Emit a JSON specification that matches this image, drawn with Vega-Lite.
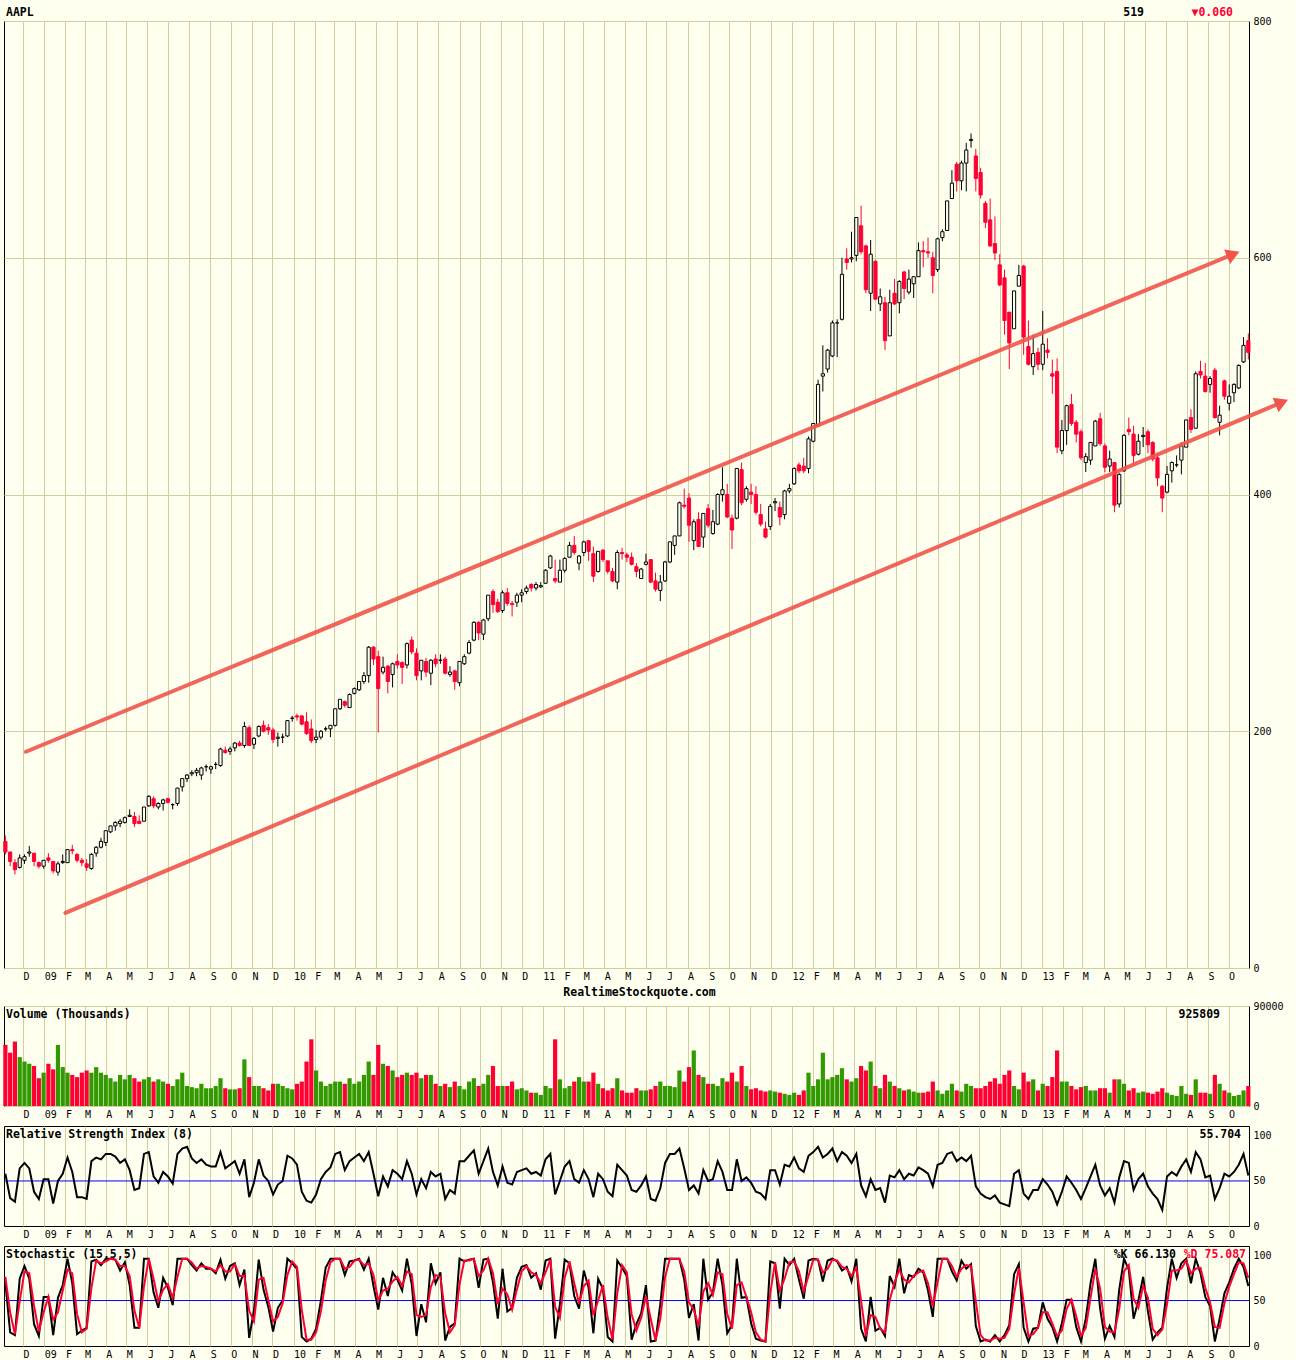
{
"$schema":"https://vega.github.io/schema/vega-lite/v6.json",
"background":"#FFFFF0",
"padding":{"left":0,"top":6,"right":5,"bottom":5},
"config":{
 "font":"DejaVu Sans Mono",
 "view":{"stroke":"#000000","strokeWidth":1},
 "scale":{"continuousPadding":0},
 "axis":{"labelFont":"DejaVu Sans Mono","labelFontSize":10,"labelColor":"#000000","domain":false,"ticks":false,"grid":true,"gridColor":"#CFCF9F","gridWidth":1,"labelFlush":false,"labelOverlap":false,"labelBound":false,"titleFont":"DejaVu Sans Mono","titleFontSize":11.5,"titleFontWeight":"bold","titleColor":"#000000"},
 "axisX":{"labelAlign":"left","labelBaseline":"top","labelPadding":3},
 "axisY":{"labelPadding":4,"labelBaseline":"middle","labelAlign":"left"},
 "text":{"font":"DejaVu Sans Mono","fontSize":11.5,"fontWeight":"bold","color":"#000000"}
},
"datasets":{"w":[
{"d":"2008-11-05","o":107,"h":112,"l":96,"c":98,"v":55000,"r":58,"k":70,"s":76},
{"d":"2008-11-12","o":98,"h":98,"l":86,"c":90,"v":48000,"r":31,"k":15,"s":37},
{"d":"2008-11-19","o":89,"h":92,"l":79,"c":83,"v":58000,"r":27,"k":12,"s":13},
{"d":"2008-11-26","o":85,"h":96,"l":84,"c":93,"v":44000,"r":64,"k":74,"s":49},
{"d":"2008-12-03","o":91,"h":96,"l":88,"c":94,"v":40000,"r":70,"k":88,"s":82},
{"d":"2008-12-10","o":97,"h":103,"l":94,"c":98,"v":38000,"r":64,"k":74,"s":80},
{"d":"2008-12-17","o":97,"h":97,"l":86,"c":90,"v":36000,"r":38,"k":24,"s":44},
{"d":"2008-12-24","o":89,"h":90,"l":84,"c":86,"v":25000,"r":30,"k":11,"s":16},
{"d":"2008-12-31","o":86,"h":91,"l":84,"c":91,"v":30000,"r":52,"k":54,"s":37},
{"d":"2009-01-07","o":93,"h":97,"l":89,"c":91,"v":38000,"r":52,"k":54,"s":54},
{"d":"2009-01-14","o":90,"h":90,"l":80,"c":82,"v":33000,"r":25,"k":12,"s":29},
{"d":"2009-01-21","o":81,"h":90,"l":78,"c":88,"v":55000,"r":50,"k":53,"s":37},
{"d":"2009-01-28","o":89,"h":96,"l":88,"c":90,"v":35000,"r":58,"k":67,"s":61},
{"d":"2009-02-04","o":89,"h":100,"l":89,"c":100,"v":30000,"r":76,"k":96,"s":84},
{"d":"2009-02-11","o":100,"h":104,"l":96,"c":99,"v":28000,"r":60,"k":69,"s":80},
{"d":"2009-02-18","o":96,"h":97,"l":89,"c":91,"v":26000,"r":32,"k":13,"s":35},
{"d":"2009-02-25","o":91,"h":93,"l":86,"c":89,"v":30000,"r":32,"k":17,"s":15},
{"d":"2009-03-04","o":88,"h":92,"l":82,"c":85,"v":32000,"r":30,"k":20,"s":19},
{"d":"2009-03-11","o":84,"h":97,"l":83,"c":96,"v":30000,"r":72,"k":93,"s":64},
{"d":"2009-03-18","o":97,"h":103,"l":94,"c":102,"v":35000,"r":76,"k":95,"s":94},
{"d":"2009-03-25","o":102,"h":110,"l":101,"c":107,"v":30000,"r":74,"k":89,"s":91},
{"d":"2009-04-01","o":106,"h":116,"l":103,"c":116,"v":28000,"r":80,"k":96,"s":93},
{"d":"2009-04-08","o":115,"h":120,"l":114,"c":120,"v":25000,"r":80,"k":96,"s":96},
{"d":"2009-04-15","o":120,"h":124,"l":116,"c":123,"v":22000,"r":77,"k":95,"s":95},
{"d":"2009-04-22","o":122,"h":126,"l":119,"c":124,"v":28000,"r":70,"k":83,"s":88},
{"d":"2009-04-29","o":123,"h":128,"l":122,"c":127,"v":24000,"r":74,"k":92,"s":88},
{"d":"2009-05-06","o":128,"h":134,"l":128,"c":129,"v":28000,"r":62,"k":67,"s":77},
{"d":"2009-05-13","o":128,"h":132,"l":119,"c":122,"v":25000,"r":40,"k":20,"s":39},
{"d":"2009-05-20","o":124,"h":129,"l":122,"c":122,"v":22000,"r":42,"k":20,"s":20},
{"d":"2009-05-27","o":124,"h":136,"l":124,"c":136,"v":24000,"r":80,"k":96,"s":66},
{"d":"2009-06-03","o":137,"h":146,"l":136,"c":145,"v":26000,"r":82,"k":96,"s":96},
{"d":"2009-06-10","o":143,"h":145,"l":135,"c":137,"v":22000,"r":55,"k":59,"s":74},
{"d":"2009-06-17","o":136,"h":140,"l":134,"c":139,"v":24000,"r":48,"k":42,"s":49},
{"d":"2009-06-24","o":139,"h":143,"l":133,"c":142,"v":22000,"r":60,"k":75,"s":62},
{"d":"2009-07-01","o":143,"h":144,"l":139,"c":140,"v":20000,"r":55,"k":64,"s":68},
{"d":"2009-07-08","o":138,"h":139,"l":134,"c":138,"v":18000,"r":47,"k":45,"s":53},
{"d":"2009-07-15","o":139,"h":152,"l":137,"c":152,"v":24000,"r":80,"k":96,"s":76},
{"d":"2009-07-22","o":153,"h":160,"l":149,"c":160,"v":30000,"r":86,"k":96,"s":96},
{"d":"2009-07-29","o":160,"h":164,"l":157,"c":163,"v":18000,"r":88,"k":96,"s":96},
{"d":"2009-08-05","o":164,"h":167,"l":162,"c":165,"v":17000,"r":75,"k":89,"s":92},
{"d":"2009-08-12","o":165,"h":169,"l":162,"c":167,"v":16000,"r":70,"k":83,"s":85},
{"d":"2009-08-19","o":163,"h":170,"l":159,"c":169,"v":20000,"r":74,"k":91,"s":88},
{"d":"2009-08-26","o":170,"h":172,"l":166,"c":170,"v":16000,"r":68,"k":85,"s":87},
{"d":"2009-09-02","o":168,"h":171,"l":164,"c":170,"v":16000,"r":66,"k":85,"s":85},
{"d":"2009-09-09","o":172,"h":174,"l":168,"c":172,"v":18000,"r":66,"k":80,"s":82},
{"d":"2009-09-16","o":171,"h":186,"l":170,"c":185,"v":25000,"r":82,"k":95,"s":89},
{"d":"2009-09-23","o":184,"h":187,"l":181,"c":182,"v":16000,"r":64,"k":74,"s":82},
{"d":"2009-09-30","o":183,"h":187,"l":180,"c":185,"v":15000,"r":68,"k":88,"s":82},
{"d":"2009-10-07","o":186,"h":191,"l":183,"c":190,"v":15000,"r":72,"k":91,"s":90},
{"d":"2009-10-14","o":190,"h":192,"l":187,"c":188,"v":16000,"r":58,"k":67,"s":77},
{"d":"2009-10-21","o":188,"h":208,"l":186,"c":204,"v":42000,"r":74,"k":84,"s":77},
{"d":"2009-10-28","o":203,"h":205,"l":188,"c":188,"v":26000,"r":32,"k":9,"s":39},
{"d":"2009-11-04","o":189,"h":195,"l":185,"c":194,"v":18000,"r":48,"k":39,"s":27},
{"d":"2009-11-11","o":196,"h":205,"l":195,"c":204,"v":18000,"r":74,"k":95,"s":73},
{"d":"2009-11-18","o":205,"h":209,"l":199,"c":200,"v":16000,"r":56,"k":62,"s":75},
{"d":"2009-11-25","o":203,"h":206,"l":197,"c":201,"v":14000,"r":50,"k":43,"s":51},
{"d":"2009-12-02","o":201,"h":203,"l":190,"c":193,"v":20000,"r":35,"k":16,"s":27},
{"d":"2009-12-09","o":194,"h":199,"l":187,"c":195,"v":20000,"r":46,"k":42,"s":32},
{"d":"2009-12-16","o":195,"h":198,"l":190,"c":195,"v":18000,"r":50,"k":50,"s":47},
{"d":"2009-12-23","o":196,"h":209,"l":195,"c":209,"v":16000,"r":78,"k":96,"s":78},
{"d":"2009-12-30","o":211,"h":213,"l":208,"c":211,"v":15000,"r":75,"k":91,"s":93},
{"d":"2010-01-06","o":213,"h":215,"l":209,"c":212,"v":20000,"r":68,"k":85,"s":87},
{"d":"2010-01-13","o":213,"h":213,"l":205,"c":206,"v":22000,"r":38,"k":10,"s":40},
{"d":"2010-01-20","o":208,"h":216,"l":197,"c":198,"v":40000,"r":28,"k":5,"s":7},
{"d":"2010-01-27","o":202,"h":210,"l":190,"c":192,"v":60000,"r":26,"k":8,"s":7},
{"d":"2010-02-03","o":193,"h":201,"l":190,"c":195,"v":32000,"r":35,"k":19,"s":15},
{"d":"2010-02-10","o":195,"h":201,"l":193,"c":200,"v":22000,"r":52,"k":50,"s":38},
{"d":"2010-02-17","o":202,"h":204,"l":200,"c":202,"v":18000,"r":60,"k":86,"s":72},
{"d":"2010-02-24","o":202,"h":205,"l":195,"c":205,"v":20000,"r":65,"k":96,"s":92},
{"d":"2010-03-03","o":205,"h":219,"l":204,"c":219,"v":22000,"r":80,"k":96,"s":96},
{"d":"2010-03-10","o":219,"h":227,"l":218,"c":227,"v":22000,"r":82,"k":96,"s":96},
{"d":"2010-03-17","o":225,"h":226,"l":220,"c":222,"v":20000,"r":62,"k":78,"s":85},
{"d":"2010-03-24","o":220,"h":232,"l":220,"c":231,"v":25000,"r":72,"k":93,"s":87},
{"d":"2010-03-31","o":232,"h":237,"l":231,"c":236,"v":20000,"r":76,"k":94,"s":94},
{"d":"2010-04-07","o":235,"h":242,"l":234,"c":242,"v":22000,"r":80,"k":96,"s":95},
{"d":"2010-04-14","o":242,"h":250,"l":240,"c":247,"v":28000,"r":72,"k":84,"s":89},
{"d":"2010-04-21","o":247,"h":272,"l":241,"c":271,"v":40000,"r":82,"k":96,"s":91},
{"d":"2010-04-28","o":271,"h":272,"l":256,"c":261,"v":28000,"r":58,"k":66,"s":78},
{"d":"2010-05-05","o":263,"h":268,"l":199,"c":236,"v":55000,"r":33,"k":40,"s":50},
{"d":"2010-05-12","o":250,"h":263,"l":248,"c":254,"v":38000,"r":55,"k":75,"s":61},
{"d":"2010-05-19","o":255,"h":256,"l":232,"c":242,"v":36000,"r":44,"k":55,"s":63},
{"d":"2010-05-26","o":248,"h":258,"l":237,"c":257,"v":32000,"r":62,"k":81,"s":71},
{"d":"2010-06-02","o":259,"h":265,"l":253,"c":256,"v":26000,"r":58,"k":73,"s":76},
{"d":"2010-06-09","o":258,"h":259,"l":240,"c":254,"v":28000,"r":52,"k":61,"s":66},
{"d":"2010-06-16","o":256,"h":275,"l":253,"c":274,"v":30000,"r":72,"k":96,"s":82},
{"d":"2010-06-23","o":277,"h":280,"l":265,"c":267,"v":28000,"r":58,"k":68,"s":79},
{"d":"2010-06-30","o":266,"h":270,"l":243,"c":247,"v":30000,"r":35,"k":11,"s":34},
{"d":"2010-07-07","o":251,"h":260,"l":243,"c":260,"v":25000,"r":52,"k":46,"s":32},
{"d":"2010-07-14","o":259,"h":262,"l":246,"c":250,"v":28000,"r":42,"k":26,"s":34},
{"d":"2010-07-21","o":249,"h":261,"l":239,"c":260,"v":28000,"r":60,"k":91,"s":65},
{"d":"2010-07-28","o":261,"h":265,"l":254,"c":257,"v":20000,"r":55,"k":69,"s":78},
{"d":"2010-08-04","o":260,"h":265,"l":257,"c":260,"v":18000,"r":58,"k":81,"s":76},
{"d":"2010-08-11","o":261,"h":263,"l":248,"c":249,"v":20000,"r":30,"k":6,"s":36},
{"d":"2010-08-18","o":248,"h":255,"l":246,"c":250,"v":17000,"r":40,"k":21,"s":15},
{"d":"2010-08-25","o":251,"h":252,"l":235,"c":242,"v":22000,"r":36,"k":25,"s":23},
{"d":"2010-09-01","o":241,"h":259,"l":238,"c":259,"v":18000,"r":72,"k":96,"s":68},
{"d":"2010-09-08","o":257,"h":265,"l":256,"c":263,"v":15000,"r":72,"k":93,"s":94},
{"d":"2010-09-15","o":266,"h":277,"l":265,"c":275,"v":22000,"r":78,"k":95,"s":94},
{"d":"2010-09-22","o":277,"h":293,"l":276,"c":292,"v":25000,"r":84,"k":96,"s":96},
{"d":"2010-09-29","o":292,"h":293,"l":277,"c":283,"v":18000,"r":58,"k":64,"s":77},
{"d":"2010-10-06","o":282,"h":295,"l":277,"c":294,"v":20000,"r":72,"k":95,"s":83},
{"d":"2010-10-13","o":295,"h":315,"l":293,"c":315,"v":28000,"r":86,"k":96,"s":96},
{"d":"2010-10-20","o":318,"h":320,"l":300,"c":307,"v":36000,"r":60,"k":70,"s":80},
{"d":"2010-10-27","o":309,"h":312,"l":300,"c":301,"v":18000,"r":45,"k":30,"s":46},
{"d":"2010-11-03","o":302,"h":319,"l":300,"c":317,"v":18000,"r":66,"k":85,"s":63},
{"d":"2010-11-10","o":317,"h":321,"l":306,"c":308,"v":18000,"r":48,"k":38,"s":57},
{"d":"2010-11-17","o":308,"h":310,"l":297,"c":307,"v":22000,"r":46,"k":42,"s":40},
{"d":"2010-11-24","o":309,"h":317,"l":305,"c":315,"v":15000,"r":60,"k":75,"s":62},
{"d":"2010-12-01","o":315,"h":320,"l":309,"c":317,"v":16000,"r":62,"k":87,"s":82},
{"d":"2010-12-08","o":318,"h":323,"l":316,"c":321,"v":14000,"r":64,"k":89,"s":88},
{"d":"2010-12-15","o":324,"h":325,"l":318,"c":321,"v":12000,"r":58,"k":75,"s":81},
{"d":"2010-12-22","o":321,"h":326,"l":319,"c":324,"v":12000,"r":60,"k":80,"s":78},
{"d":"2010-12-29","o":322,"h":326,"l":321,"c":323,"v":10000,"r":56,"k":62,"s":69},
{"d":"2011-01-05","o":325,"h":337,"l":325,"c":336,"v":18000,"r":74,"k":94,"s":81},
{"d":"2011-01-12","o":338,"h":349,"l":337,"c":348,"v":16000,"r":80,"k":96,"s":95},
{"d":"2011-01-19","o":329,"h":345,"l":325,"c":327,"v":60000,"r":35,"k":8,"s":43},
{"d":"2011-01-26","o":326,"h":345,"l":326,"c":336,"v":24000,"r":50,"k":46,"s":31},
{"d":"2011-02-02","o":336,"h":347,"l":334,"c":346,"v":16000,"r":66,"k":95,"s":75},
{"d":"2011-02-09","o":347,"h":360,"l":347,"c":357,"v":18000,"r":72,"k":91,"s":93},
{"d":"2011-02-16","o":357,"h":365,"l":349,"c":351,"v":22000,"r":52,"k":55,"s":69},
{"d":"2011-02-23","o":342,"h":349,"l":336,"c":348,"v":26000,"r":48,"k":41,"s":47},
{"d":"2011-03-02","o":351,"h":361,"l":348,"c":360,"v":22000,"r":62,"k":83,"s":66},
{"d":"2011-03-09","o":361,"h":361,"l":344,"c":352,"v":22000,"r":52,"k":64,"s":72},
{"d":"2011-03-16","o":350,"h":356,"l":326,"c":331,"v":30000,"r":32,"k":14,"s":34},
{"d":"2011-03-23","o":335,"h":352,"l":334,"c":352,"v":20000,"r":58,"k":74,"s":50},
{"d":"2011-03-30","o":353,"h":354,"l":343,"c":345,"v":16000,"r":52,"k":63,"s":67},
{"d":"2011-04-06","o":344,"h":344,"l":333,"c":335,"v":14000,"r":38,"k":10,"s":31},
{"d":"2011-04-13","o":335,"h":338,"l":326,"c":327,"v":16000,"r":33,"k":5,"s":7},
{"d":"2011-04-20","o":326,"h":353,"l":320,"c":351,"v":25000,"r":68,"k":94,"s":58},
{"d":"2011-04-27","o":351,"h":355,"l":345,"c":350,"v":14000,"r":62,"k":86,"s":89},
{"d":"2011-05-04","o":349,"h":351,"l":343,"c":347,"v":12000,"r":56,"k":77,"s":81},
{"d":"2011-05-11","o":347,"h":351,"l":340,"c":341,"v":12000,"r":40,"k":7,"s":35},
{"d":"2011-05-18","o":339,"h":342,"l":330,"c":335,"v":16000,"r":38,"k":24,"s":17},
{"d":"2011-05-25","o":329,"h":338,"l":329,"c":337,"v":14000,"r":45,"k":36,"s":31},
{"d":"2011-06-01","o":341,"h":350,"l":340,"c":343,"v":14000,"r":55,"k":67,"s":55},
{"d":"2011-06-08","o":345,"h":345,"l":325,"c":326,"v":15000,"r":30,"k":5,"s":30},
{"d":"2011-06-15","o":327,"h":334,"l":318,"c":320,"v":18000,"r":28,"k":6,"s":6},
{"d":"2011-06-22","o":319,"h":332,"l":310,"c":326,"v":22000,"r":42,"k":46,"s":30},
{"d":"2011-06-29","o":327,"h":344,"l":326,"c":343,"v":18000,"r":70,"k":96,"s":76},
{"d":"2011-07-06","o":343,"h":360,"l":342,"c":360,"v":18000,"r":80,"k":96,"s":96},
{"d":"2011-07-13","o":357,"h":365,"l":349,"c":365,"v":17000,"r":80,"k":96,"s":96},
{"d":"2011-07-20","o":365,"h":394,"l":365,"c":393,"v":32000,"r":86,"k":96,"s":96},
{"d":"2011-07-27","o":391,"h":405,"l":388,"c":390,"v":22000,"r":64,"k":73,"s":82},
{"d":"2011-08-03","o":397,"h":401,"l":360,"c":374,"v":35000,"r":40,"k":31,"s":48},
{"d":"2011-08-10","o":361,"h":379,"l":353,"c":377,"v":50000,"r":45,"k":46,"s":40},
{"d":"2011-08-17","o":379,"h":385,"l":356,"c":356,"v":28000,"r":36,"k":6,"s":22},
{"d":"2011-08-24","o":364,"h":384,"l":355,"c":384,"v":26000,"r":62,"k":96,"s":60},
{"d":"2011-08-31","o":388,"h":392,"l":372,"c":374,"v":20000,"r":50,"k":51,"s":69},
{"d":"2011-09-07","o":367,"h":387,"l":366,"c":377,"v":20000,"r":52,"k":59,"s":56},
{"d":"2011-09-14","o":375,"h":401,"l":374,"c":400,"v":18000,"r":72,"k":96,"s":81},
{"d":"2011-09-21","o":400,"h":423,"l":394,"c":404,"v":25000,"r":60,"k":67,"s":79},
{"d":"2011-09-28","o":400,"h":409,"l":380,"c":381,"v":22000,"r":40,"k":14,"s":35},
{"d":"2011-10-05","o":380,"h":383,"l":354,"c":370,"v":30000,"r":40,"k":23,"s":19},
{"d":"2011-10-12","o":380,"h":422,"l":379,"c":422,"v":22000,"r":74,"k":96,"s":67},
{"d":"2011-10-19","o":421,"h":427,"l":391,"c":393,"v":36000,"r":50,"k":53,"s":70},
{"d":"2011-10-26","o":396,"h":407,"l":394,"c":405,"v":18000,"r":54,"k":54,"s":54},
{"d":"2011-11-02","o":402,"h":409,"l":392,"c":400,"v":15000,"r":48,"k":25,"s":37},
{"d":"2011-11-09","o":400,"h":407,"l":383,"c":385,"v":16000,"r":38,"k":8,"s":15},
{"d":"2011-11-16","o":383,"h":392,"l":373,"c":375,"v":14000,"r":36,"k":6,"s":7},
{"d":"2011-11-23","o":371,"h":377,"l":363,"c":364,"v":13000,"r":30,"k":5,"s":5},
{"d":"2011-11-30","o":373,"h":392,"l":370,"c":390,"v":14000,"r":62,"k":93,"s":58},
{"d":"2011-12-07","o":393,"h":397,"l":386,"c":394,"v":13000,"r":62,"k":91,"s":92},
{"d":"2011-12-14","o":389,"h":394,"l":374,"c":381,"v":12000,"r":46,"k":41,"s":61},
{"d":"2011-12-21","o":383,"h":404,"l":379,"c":403,"v":11000,"r":68,"k":96,"s":74},
{"d":"2011-12-28","o":403,"h":409,"l":401,"c":405,"v":10000,"r":66,"k":89,"s":92},
{"d":"2012-01-04","o":409,"h":423,"l":408,"c":422,"v":12000,"r":76,"k":96,"s":93},
{"d":"2012-01-11","o":425,"h":427,"l":418,"c":420,"v":10000,"r":64,"k":73,"s":82},
{"d":"2012-01-18","o":424,"h":431,"l":418,"c":420,"v":14000,"r":60,"k":52,"s":60},
{"d":"2012-01-25","o":422,"h":449,"l":418,"c":447,"v":30000,"r":78,"k":94,"s":77},
{"d":"2012-02-01","o":445,"h":460,"l":444,"c":460,"v":18000,"r":82,"k":96,"s":95},
{"d":"2012-02-08","o":458,"h":497,"l":458,"c":493,"v":24000,"r":88,"k":95,"s":95},
{"d":"2012-02-15","o":500,"h":526,"l":487,"c":502,"v":48000,"r":76,"k":71,"s":81},
{"d":"2012-02-22","o":506,"h":523,"l":503,"c":522,"v":24000,"r":80,"k":94,"s":85},
{"d":"2012-02-29","o":517,"h":547,"l":516,"c":545,"v":26000,"r":86,"k":96,"s":95},
{"d":"2012-03-07","o":545,"h":548,"l":516,"c":545,"v":28000,"r":72,"k":93,"s":94},
{"d":"2012-03-14","o":548,"h":600,"l":547,"c":586,"v":34000,"r":82,"k":83,"s":87},
{"d":"2012-03-21","o":599,"h":608,"l":590,"c":596,"v":24000,"r":78,"k":87,"s":85},
{"d":"2012-03-28","o":599,"h":622,"l":596,"c":600,"v":22000,"r":70,"k":71,"s":77},
{"d":"2012-04-04","o":602,"h":634,"l":597,"c":634,"v":25000,"r":80,"k":96,"s":86},
{"d":"2012-04-11","o":627,"h":644,"l":603,"c":605,"v":36000,"r":45,"k":19,"s":50},
{"d":"2012-04-18","o":610,"h":611,"l":570,"c":573,"v":32000,"r":33,"k":5,"s":11},
{"d":"2012-04-25","o":570,"h":615,"l":555,"c":603,"v":40000,"r":52,"k":54,"s":34},
{"d":"2012-05-02","o":597,"h":598,"l":565,"c":565,"v":18000,"r":40,"k":17,"s":32},
{"d":"2012-05-09","o":561,"h":574,"l":555,"c":567,"v":16000,"r":42,"k":20,"s":19},
{"d":"2012-05-16","o":562,"h":567,"l":522,"c":530,"v":28000,"r":26,"k":11,"s":15},
{"d":"2012-05-23","o":534,"h":573,"l":534,"c":562,"v":22000,"r":56,"k":77,"s":51},
{"d":"2012-05-30","o":570,"h":582,"l":560,"c":561,"v":18000,"r":54,"k":65,"s":70},
{"d":"2012-06-06","o":562,"h":581,"l":553,"c":580,"v":16000,"r":62,"k":96,"s":84},
{"d":"2012-06-13","o":588,"h":589,"l":565,"c":574,"v":14000,"r":52,"k":58,"s":73},
{"d":"2012-06-20","o":571,"h":590,"l":569,"c":582,"v":15000,"r":58,"k":78,"s":70},
{"d":"2012-06-27","o":578,"h":584,"l":566,"c":584,"v":13000,"r":56,"k":76,"s":77},
{"d":"2012-07-04","o":584,"h":613,"l":584,"c":606,"v":12000,"r":65,"k":85,"s":81},
{"d":"2012-07-11","o":606,"h":614,"l":592,"c":605,"v":12000,"r":62,"k":81,"s":83},
{"d":"2012-07-18","o":605,"h":617,"l":600,"c":604,"v":13000,"r":58,"k":61,"s":69},
{"d":"2012-07-25","o":600,"h":605,"l":570,"c":585,"v":22000,"r":44,"k":32,"s":44},
{"d":"2012-08-01","o":590,"h":617,"l":588,"c":616,"v":14000,"r":68,"k":96,"s":70},
{"d":"2012-08-08","o":617,"h":624,"l":614,"c":622,"v":11000,"r":70,"k":96,"s":96},
{"d":"2012-08-15","o":623,"h":648,"l":623,"c":648,"v":14000,"r":80,"k":96,"s":96},
{"d":"2012-08-22","o":650,"h":674,"l":650,"c":663,"v":20000,"r":82,"k":82,"s":88},
{"d":"2012-08-29","o":679,"h":681,"l":656,"c":665,"v":14000,"r":72,"k":72,"s":76},
{"d":"2012-09-05","o":665,"h":682,"l":657,"c":680,"v":13000,"r":76,"k":94,"s":85},
{"d":"2012-09-12","o":680,"h":697,"l":656,"c":691,"v":20000,"r":72,"k":85,"s":89},
{"d":"2012-09-19","o":699,"h":705,"l":693,"c":700,"v":18000,"r":78,"k":90,"s":88},
{"d":"2012-09-26","o":686,"h":692,"l":656,"c":667,"v":16000,"r":44,"k":22,"s":49},
{"d":"2012-10-03","o":672,"h":676,"l":650,"c":653,"v":16000,"r":36,"k":5,"s":12},
{"d":"2012-10-10","o":646,"h":648,"l":625,"c":630,"v":18000,"r":32,"k":7,"s":6},
{"d":"2012-10-17","o":632,"h":650,"l":609,"c":610,"v":22000,"r":30,"k":5,"s":6},
{"d":"2012-10-24","o":612,"h":635,"l":598,"c":604,"v":25000,"r":34,"k":12,"s":9},
{"d":"2012-10-31","o":594,"h":603,"l":576,"c":577,"v":20000,"r":26,"k":5,"s":8},
{"d":"2012-11-07","o":583,"h":590,"l":535,"c":547,"v":28000,"r":24,"k":12,"s":9},
{"d":"2012-11-14","o":554,"h":554,"l":506,"c":528,"v":32000,"r":22,"k":23,"s":19},
{"d":"2012-11-21","o":540,"h":572,"l":540,"c":572,"v":18000,"r":58,"k":79,"s":57},
{"d":"2012-11-28","o":576,"h":594,"l":576,"c":585,"v":15000,"r":62,"k":90,"s":86},
{"d":"2012-12-05","o":593,"h":594,"l":518,"c":533,"v":30000,"r":36,"k":20,"s":48},
{"d":"2012-12-12","o":525,"h":547,"l":509,"c":510,"v":22000,"r":30,"k":5,"s":11},
{"d":"2012-12-19","o":508,"h":535,"l":501,"c":519,"v":24000,"r":40,"k":19,"s":13},
{"d":"2012-12-26","o":520,"h":524,"l":505,"c":510,"v":14000,"r":40,"k":20,"s":20},
{"d":"2013-01-02","o":510,"h":555,"l":505,"c":527,"v":20000,"r":52,"k":48,"s":37},
{"d":"2013-01-09","o":522,"h":532,"l":515,"c":520,"v":18000,"r":46,"k":30,"s":37},
{"d":"2013-01-16","o":502,"h":514,"l":485,"c":500,"v":26000,"r":38,"k":21,"s":25},
{"d":"2013-01-23","o":504,"h":515,"l":435,"c":440,"v":50000,"r":24,"k":5,"s":11},
{"d":"2013-01-30","o":437,"h":463,"l":434,"c":454,"v":22000,"r":38,"k":25,"s":17},
{"d":"2013-02-06","o":454,"h":476,"l":442,"c":475,"v":22000,"r":55,"k":51,"s":41},
{"d":"2013-02-13","o":476,"h":485,"l":458,"c":460,"v":18000,"r":48,"k":51,"s":51},
{"d":"2013-02-20","o":461,"h":463,"l":444,"c":451,"v":15000,"r":40,"k":21,"s":33},
{"d":"2013-02-27","o":453,"h":455,"l":429,"c":431,"v":17000,"r":30,"k":5,"s":11},
{"d":"2013-03-06","o":427,"h":435,"l":419,"c":432,"v":18000,"r":42,"k":30,"s":20},
{"d":"2013-03-13","o":429,"h":444,"l":425,"c":444,"v":14000,"r":55,"k":69,"s":53},
{"d":"2013-03-20","o":441,"h":463,"l":441,"c":462,"v":14000,"r":68,"k":96,"s":85},
{"d":"2013-03-27","o":464,"h":469,"l":441,"c":443,"v":16000,"r":45,"k":41,"s":63},
{"d":"2013-04-03","o":441,"h":443,"l":419,"c":423,"v":16000,"r":34,"k":8,"s":21},
{"d":"2013-04-10","o":424,"h":437,"l":419,"c":430,"v":12000,"r":42,"k":22,"s":16},
{"d":"2013-04-17","o":427,"h":427,"l":385,"c":391,"v":24000,"r":26,"k":10,"s":15},
{"d":"2013-04-24","o":392,"h":418,"l":389,"c":417,"v":24000,"r":54,"k":62,"s":41},
{"d":"2013-05-01","o":420,"h":451,"l":419,"c":450,"v":20000,"r":72,"k":96,"s":82},
{"d":"2013-05-08","o":455,"h":465,"l":450,"c":453,"v":14000,"r":70,"k":84,"s":89},
{"d":"2013-05-15","o":451,"h":458,"l":425,"c":433,"v":16000,"r":40,"k":30,"s":52},
{"d":"2013-05-22","o":434,"h":451,"l":433,"c":445,"v":12000,"r":52,"k":50,"s":42},
{"d":"2013-05-29","o":449,"h":457,"l":440,"c":450,"v":13000,"r":58,"k":76,"s":66},
{"d":"2013-06-05","o":453,"h":455,"l":435,"c":442,"v":12000,"r":44,"k":38,"s":53},
{"d":"2013-06-12","o":444,"h":445,"l":428,"c":430,"v":11000,"r":36,"k":7,"s":19},
{"d":"2013-06-19","o":431,"h":435,"l":407,"c":414,"v":13000,"r":30,"k":15,"s":12},
{"d":"2013-06-26","o":407,"h":408,"l":385,"c":397,"v":16000,"r":18,"k":20,"s":18},
{"d":"2013-07-03","o":402,"h":424,"l":401,"c":417,"v":12000,"r":55,"k":64,"s":46},
{"d":"2013-07-10","o":420,"h":428,"l":410,"c":427,"v":10000,"r":60,"k":96,"s":83},
{"d":"2013-07-17","o":425,"h":433,"l":423,"c":425,"v":9000,"r":56,"k":75,"s":83},
{"d":"2013-07-24","o":429,"h":444,"l":417,"c":441,"v":18000,"r":66,"k":91,"s":85},
{"d":"2013-07-31","o":440,"h":463,"l":440,"c":463,"v":11000,"r":74,"k":96,"s":94},
{"d":"2013-08-07","o":465,"h":472,"l":452,"c":455,"v":10000,"r":60,"k":69,"s":80},
{"d":"2013-08-14","o":456,"h":504,"l":456,"c":502,"v":24000,"r":82,"k":96,"s":85},
{"d":"2013-08-21","o":504,"h":513,"l":498,"c":501,"v":12000,"r":74,"k":80,"s":86},
{"d":"2013-08-28","o":500,"h":511,"l":486,"c":487,"v":12000,"r":54,"k":54,"s":64},
{"d":"2013-09-04","o":493,"h":500,"l":486,"c":498,"v":11000,"r":56,"k":44,"s":48},
{"d":"2013-09-11","o":505,"h":507,"l":464,"c":465,"v":28000,"r":30,"k":5,"s":21},
{"d":"2013-09-18","o":461,"h":475,"l":450,"c":467,"v":20000,"r":42,"k":30,"s":20},
{"d":"2013-09-25","o":496,"h":497,"l":480,"c":483,"v":14000,"r":58,"k":58,"s":47},
{"d":"2013-10-02","o":477,"h":493,"l":471,"c":483,"v":12000,"r":55,"k":70,"s":65},
{"d":"2013-10-09","o":486,"h":494,"l":478,"c":493,"v":9000,"r":60,"k":85,"s":79},
{"d":"2013-10-16","o":490,"h":510,"l":489,"c":509,"v":10000,"r":68,"k":96,"s":92},
{"d":"2013-10-23","o":512,"h":533,"l":511,"c":526,"v":14000,"r":80,"k":87,"s":91},
{"d":"2013-10-30","o":530,"h":536,"l":514,"c":520,"v":18000,"r":56,"k":66,"s":75}
]},
"spacing":38,
"bounds":"flush",
"vconcat":[
{
 "width":1245,"height":947,
 "layer":[
  {"data":{"name":"w"},"mark":{"type":"rule","strokeWidth":1},
   "encoding":{
    "x":{"field":"d","type":"temporal","scale":{"domain":[{"year":2008,"month":11,"date":3},{"year":2013,"month":10,"date":31}],"nice":false,"padding":0},"axis":{"title":"RealtimeStockquote.com","titlePadding":5,"titleX":635,"tickCount":{"interval":"month","step":1},"labelExpr":"month(datum.value)==0 ? timeFormat(datum.value,'%y') : slice(timeFormat(datum.value,'%b'),0,1)"}},
    "y":{"field":"l","type":"quantitative","title":null,"scale":{"domain":[0,800],"nice":false},"axis":{"orient":"right","values":[0,200,400,600,800]}},
    "y2":{"field":"h"},
    "color":{"condition":{"test":"datum.c>=datum.o","value":"#000000"},"value":"#FF0033"}}},
  {"data":{"name":"w"},"mark":{"type":"bar","size":3.2,"strokeWidth":1},
   "encoding":{
    "x":{"field":"d","type":"temporal","scale":{"domain":[{"year":2008,"month":11,"date":3},{"year":2013,"month":10,"date":31}],"nice":false,"padding":0},"axis":{"title":"RealtimeStockquote.com","titlePadding":5,"titleX":635,"tickCount":{"interval":"month","step":1},"labelExpr":"month(datum.value)==0 ? timeFormat(datum.value,'%y') : slice(timeFormat(datum.value,'%b'),0,1)"}},
    "y":{"field":"o","type":"quantitative","title":null,"scale":{"domain":[0,800],"nice":false},"axis":{"orient":"right","values":[0,200,400,600,800]}},
    "y2":{"field":"c"},
    "fill":{"condition":{"test":"datum.c>=datum.o","value":"#FFFFF0"},"value":"#FF0033"},
    "stroke":{"condition":{"test":"datum.c>=datum.o","value":"#000000"},"value":"#FF0033"}}},
  {"data":{"values":[{"g":1,"d":"2008-12-05","p":182.7},{"g":1,"d":"2013-10-08","p":603},{"g":2,"d":"2009-02-01","p":46.5},{"g":2,"d":"2013-12-18","p":477.8}]},
   "mark":{"type":"line","color":"#F0544A","strokeWidth":4,"opacity":0.9,"strokeCap":"round","clip":false},
   "encoding":{
    "x":{"field":"d","type":"temporal","scale":{"domain":[{"year":2008,"month":11,"date":3},{"year":2013,"month":10,"date":31}],"nice":false,"padding":0},"axis":{"title":"RealtimeStockquote.com","titlePadding":5,"titleX":635,"tickCount":{"interval":"month","step":1},"labelExpr":"month(datum.value)==0 ? timeFormat(datum.value,'%y') : slice(timeFormat(datum.value,'%b'),0,1)"}},
    "y":{"field":"p","type":"quantitative","title":null,"scale":{"domain":[0,800],"nice":false},"axis":{"orient":"right","values":[0,200,400,600,800]}},
    "detail":{"field":"g","type":"nominal"}}},
  {"data":{"values":[{"g":1,"d":"2013-10-08","p":603},{"g":2,"d":"2013-12-18","p":477.8}]},
   "mark":{"type":"point","shape":"triangle-right","filled":true,"size":240,"angle":-22.5,"color":"#F0544A","opacity":1,"clip":false},
   "encoding":{
    "x":{"field":"d","type":"temporal","scale":{"domain":[{"year":2008,"month":11,"date":3},{"year":2013,"month":10,"date":31}],"nice":false,"padding":0},"axis":{"title":"RealtimeStockquote.com","titlePadding":5,"titleX":635,"tickCount":{"interval":"month","step":1},"labelExpr":"month(datum.value)==0 ? timeFormat(datum.value,'%y') : slice(timeFormat(datum.value,'%b'),0,1)"}},
    "y":{"field":"p","type":"quantitative","title":null,"scale":{"domain":[0,800],"nice":false},"axis":{"orient":"right","values":[0,200,400,600,800]}}}},
  {"data":{"values":[{"t":"AAPL"}]},
   "mark":{"type":"text","align":"left","baseline":"alphabetic","dx":2,"dy":-5},
   "encoding":{
    "x":{"datum":{"year":2008,"month":11,"date":3},"type":"temporal","title":null,"scale":{"domain":[{"year":2008,"month":11,"date":3},{"year":2013,"month":10,"date":31}],"nice":false,"padding":0}},
    "y":{"datum":800,"type":"quantitative","title":null,"scale":{"domain":[0,800],"nice":false}},
    "text":{"field":"t"}}},
  {"data":{"values":[{"t":"519"}]},
   "mark":{"type":"text","align":"right","baseline":"alphabetic","dx":-105,"dy":-5},
   "encoding":{
    "x":{"datum":{"year":2013,"month":10,"date":31},"type":"temporal","title":null,"scale":{"domain":[{"year":2008,"month":11,"date":3},{"year":2013,"month":10,"date":31}],"nice":false,"padding":0}},
    "y":{"datum":800,"type":"quantitative","title":null,"scale":{"domain":[0,800],"nice":false}},
    "text":{"field":"t"}}},
  {"data":{"values":[{"t":"▼0.060"}]},
   "mark":{"type":"text","align":"right","baseline":"alphabetic","dx":-16,"dy":-5,"color":"#FF0033"},
   "encoding":{
    "x":{"datum":{"year":2013,"month":10,"date":31},"type":"temporal","title":null,"scale":{"domain":[{"year":2008,"month":11,"date":3},{"year":2013,"month":10,"date":31}],"nice":false,"padding":0}},
    "y":{"datum":800,"type":"quantitative","title":null,"scale":{"domain":[0,800],"nice":false}},
    "text":{"field":"t"}}}
 ]
},
{
 "spacing":20,
 "bounds":"flush",
 "vconcat":[
  {
   "width":1245,"height":100,
   "layer":[
    {"data":{"name":"w"},"mark":{"type":"bar","size":4.2},
     "encoding":{
      "x":{"field":"d","type":"temporal","title":null,"scale":{"domain":[{"year":2008,"month":11,"date":3},{"year":2013,"month":10,"date":31}],"nice":false,"padding":0},"axis":{"tickCount":{"interval":"month","step":1},"labelExpr":"month(datum.value)==0 ? timeFormat(datum.value,'%y') : slice(timeFormat(datum.value,'%b'),0,1)"}},
      "y":{"field":"v","type":"quantitative","title":null,"scale":{"domain":[0,90000],"nice":false},"axis":{"orient":"right","values":[0,30000,60000,90000],"format":"d"}},
      "color":{"condition":{"test":"datum.c>=datum.o","value":"#339900"},"value":"#FF0033"}}},
    {"data":{"values":[{"t":"Volume (Thousands)"}]},
     "mark":{"type":"text","align":"left","baseline":"top","dx":2,"dy":3},
     "encoding":{
      "x":{"datum":{"year":2008,"month":11,"date":3},"type":"temporal","title":null,"scale":{"domain":[{"year":2008,"month":11,"date":3},{"year":2013,"month":10,"date":31}],"nice":false,"padding":0}},
      "y":{"datum":90000,"type":"quantitative","title":null,"scale":{"domain":[0,90000],"nice":false}},
      "text":{"field":"t"}}},
    {"data":{"values":[{"t":"925809"}]},
     "mark":{"type":"text","align":"right","baseline":"top","dx":-29,"dy":3},
     "encoding":{
      "x":{"datum":{"year":2013,"month":10,"date":31},"type":"temporal","title":null,"scale":{"domain":[{"year":2008,"month":11,"date":3},{"year":2013,"month":10,"date":31}],"nice":false,"padding":0}},
      "y":{"datum":90000,"type":"quantitative","title":null,"scale":{"domain":[0,90000],"nice":false}},
      "text":{"field":"t"}}}
   ]
  },
  {
   "width":1245,"height":100,
   "layer":[
    {"data":{"values":[{}]},"mark":{"type":"rule","color":"#0000FF","strokeWidth":1},
     "encoding":{"y":{"datum":50,"type":"quantitative","title":null,"scale":{"domain":[0,111],"nice":false},"axis":{"orient":"right","values":[0,20,50,80,100],"gridOpacity":{"condition":{"test":"datum.value==20||datum.value==80","value":1},"value":0}}}}},
    {"data":{"name":"w"},"mark":{"type":"line","color":"#000000","strokeWidth":2},
     "encoding":{
      "x":{"field":"d","type":"temporal","title":null,"scale":{"domain":[{"year":2008,"month":11,"date":3},{"year":2013,"month":10,"date":31}],"nice":false,"padding":0},"axis":{"tickCount":{"interval":"month","step":1},"labelExpr":"month(datum.value)==0 ? timeFormat(datum.value,'%y') : slice(timeFormat(datum.value,'%b'),0,1)"}},
      "y":{"field":"r","type":"quantitative","title":null,"scale":{"domain":[0,111],"nice":false},"axis":{"orient":"right","values":[0,20,50,80,100],"gridOpacity":{"condition":{"test":"datum.value==20||datum.value==80","value":1},"value":0}}}}},
    {"data":{"values":[{"t":"Relative Strength Index (8)"}]},
     "mark":{"type":"text","align":"left","baseline":"top","dx":2,"dy":3},
     "encoding":{
      "x":{"datum":{"year":2008,"month":11,"date":3},"type":"temporal","title":null,"scale":{"domain":[{"year":2008,"month":11,"date":3},{"year":2013,"month":10,"date":31}],"nice":false,"padding":0}},
      "y":{"datum":111,"type":"quantitative","title":null,"scale":{"domain":[0,111],"nice":false}},
      "text":{"field":"t"}}},
    {"data":{"values":[{"t":"55.704"}]},
     "mark":{"type":"text","align":"right","baseline":"top","dx":-8,"dy":3},
     "encoding":{
      "x":{"datum":{"year":2013,"month":10,"date":31},"type":"temporal","title":null,"scale":{"domain":[{"year":2008,"month":11,"date":3},{"year":2013,"month":10,"date":31}],"nice":false,"padding":0}},
      "y":{"datum":111,"type":"quantitative","title":null,"scale":{"domain":[0,111],"nice":false}},
      "text":{"field":"t"}}}
   ]
  },
  {
   "width":1245,"height":100,
   "layer":[
    {"data":{"values":[{}]},"mark":{"type":"rule","color":"#0000FF","strokeWidth":1},
     "encoding":{"y":{"datum":50,"type":"quantitative","title":null,"scale":{"domain":[0,110],"nice":false},"axis":{"orient":"right","values":[0,20,50,80,100],"gridOpacity":{"condition":{"test":"datum.value==20||datum.value==80","value":1},"value":0}}}}},
    {"data":{"name":"w"},"mark":{"type":"line","color":"#000000","strokeWidth":2},
     "encoding":{
      "x":{"field":"d","type":"temporal","title":null,"scale":{"domain":[{"year":2008,"month":11,"date":3},{"year":2013,"month":10,"date":31}],"nice":false,"padding":0},"axis":{"tickCount":{"interval":"month","step":1},"labelExpr":"month(datum.value)==0 ? timeFormat(datum.value,'%y') : slice(timeFormat(datum.value,'%b'),0,1)"}},
      "y":{"field":"k","type":"quantitative","title":null,"scale":{"domain":[0,110],"nice":false},"axis":{"orient":"right","values":[0,20,50,80,100],"gridOpacity":{"condition":{"test":"datum.value==20||datum.value==80","value":1},"value":0}}}}},
    {"data":{"name":"w"},"mark":{"type":"line","color":"#FF0033","strokeWidth":2},
     "encoding":{
      "x":{"field":"d","type":"temporal","title":null,"scale":{"domain":[{"year":2008,"month":11,"date":3},{"year":2013,"month":10,"date":31}],"nice":false,"padding":0},"axis":{"tickCount":{"interval":"month","step":1},"labelExpr":"month(datum.value)==0 ? timeFormat(datum.value,'%y') : slice(timeFormat(datum.value,'%b'),0,1)"}},
      "y":{"field":"s","type":"quantitative","title":null,"scale":{"domain":[0,110],"nice":false},"axis":{"orient":"right","values":[0,20,50,80,100],"gridOpacity":{"condition":{"test":"datum.value==20||datum.value==80","value":1},"value":0}}}}},
    {"data":{"values":[{"t":"Stochastic (15,5,5)"}]},
     "mark":{"type":"text","align":"left","baseline":"top","dx":2,"dy":3},
     "encoding":{
      "x":{"datum":{"year":2008,"month":11,"date":3},"type":"temporal","title":null,"scale":{"domain":[{"year":2008,"month":11,"date":3},{"year":2013,"month":10,"date":31}],"nice":false,"padding":0}},
      "y":{"datum":110,"type":"quantitative","title":null,"scale":{"domain":[0,110],"nice":false}},
      "text":{"field":"t"}}},
    {"data":{"values":[{"t":"%K 66.130"}]},
     "mark":{"type":"text","align":"right","baseline":"top","dx":-73,"dy":3},
     "encoding":{
      "x":{"datum":{"year":2013,"month":10,"date":31},"type":"temporal","title":null,"scale":{"domain":[{"year":2008,"month":11,"date":3},{"year":2013,"month":10,"date":31}],"nice":false,"padding":0}},
      "y":{"datum":110,"type":"quantitative","title":null,"scale":{"domain":[0,110],"nice":false}},
      "text":{"field":"t"}}},
    {"data":{"values":[{"t":"%D 75.087"}]},
     "mark":{"type":"text","align":"right","baseline":"top","dx":-3,"dy":3,"color":"#FF0033"},
     "encoding":{
      "x":{"datum":{"year":2013,"month":10,"date":31},"type":"temporal","title":null,"scale":{"domain":[{"year":2008,"month":11,"date":3},{"year":2013,"month":10,"date":31}],"nice":false,"padding":0}},
      "y":{"datum":110,"type":"quantitative","title":null,"scale":{"domain":[0,110],"nice":false}},
      "text":{"field":"t"}}}
   ]
  }
 ]
}
]
}
